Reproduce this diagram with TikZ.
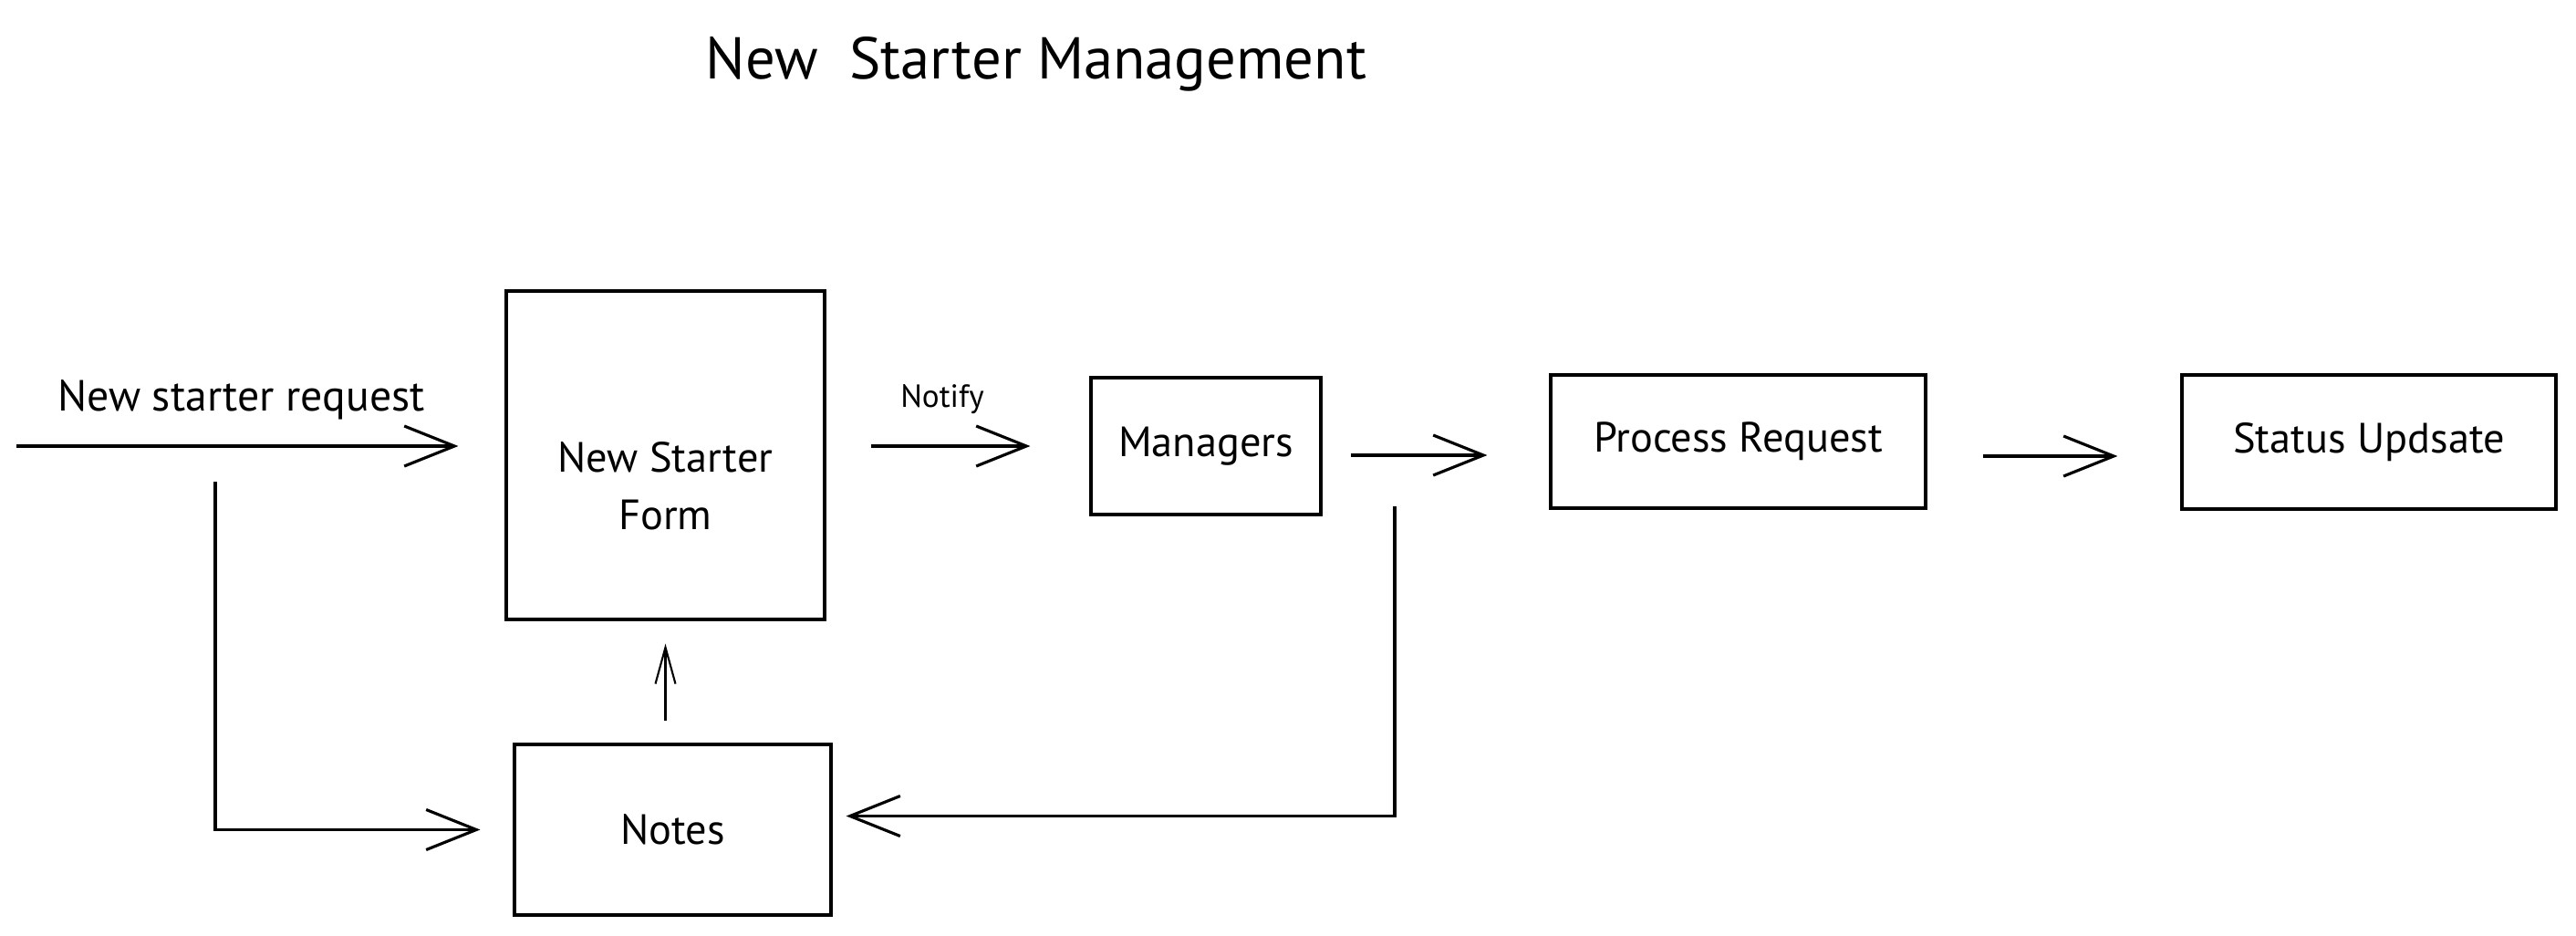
\documentclass[tikz,border=0pt]{standalone}
\usepackage{fontspec}
\setmainfont{PT Sans}
\usetikzlibrary{arrows.meta}
\tikzset{
	box/.style={draw, line width=0.9pt, inner sep=0pt, font=\fontsize{13.2}{18}\selectfont},
	arr/.style={line width=0.9pt, -{Straight Barb[length=5.5mm, width=4.4mm, line width=0.9pt]}},
	thinarr/.style={line width=0.6pt, -{Straight Barb[length=4mm, width=2.2mm, line width=0.6pt]}}
}

\begin{document}
\begin{tikzpicture}
		%%%%% START %%%%%
		\useasboundingbox (0, 0) rectangle (28.24, -10.25);
		
		\node (title) at (11.36, -0.70) {\fontsize{18.4}{22}\selectfont New\ \ Starter Management};
		
		\node[box, minimum width=3.49cm, minimum height=3.60cm] (nsf) at (7.295, -4.99) {};
		\node[font=\fontsize{13.2}{18}\selectfont, align=center] (nsftext) at ([yshift=-3.4mm]nsf.center) {New Starter\\Form};
		\node[box, minimum width=2.52cm, minimum height=1.50cm] (mgr) at (13.22, -4.89) {Managers};
		\node[box, minimum width=4.11cm, minimum height=1.46cm] (proc) at (19.055, -4.84) {Process Request};
		\node[box, minimum width=4.10cm, minimum height=1.47cm] (stat) at (25.97, -4.845) {Status Updsate};
		\node[box, minimum width=3.47cm, minimum height=1.87cm] (notes) at (7.375, -9.095) {Notes};
		
		\node[font=\fontsize{13.6}{16}\selectfont] (req) at (2.645, -4.38) {New starter request};
		\node[font=\fontsize{10}{12}\selectfont] (notify) at (10.33, -4.38) {Notify};
		
		\coordinate (in) at (0.18, -4.89);
		\coordinate (split) at (2.36, -5.28);
		\coordinate (back) at (15.29, -5.55);
		
		\draw[arr, shorten >=5.1mm] (in) -- (in -| nsf.west);
		\draw[arr, shorten <=4.9mm, shorten >=6.5mm] (nsf.east |- mgr) -- (mgr.west);
		\draw[arr, shorten <=3.1mm, shorten >=6.8mm] ([yshift=-1mm]mgr.east) -- ([yshift=-1mm]mgr.east -| proc.west);
		\draw[arr, shorten <=6.1mm, shorten >=6.9mm] ([yshift=-1.6mm]proc.east) -- ([yshift=-1.6mm]proc.east -| stat.west);
		\draw[thinarr, shorten <=2.4mm, shorten >=2.5mm] (nsf.south |- notes.north) -- (nsf.south);
		
		\draw[arr, shorten >=3.6mm] (split) |- (notes.west);
		\draw[arr, shorten >=1.5mm] (back) |- ([yshift=1.5mm]notes.east);
		
		%%%%% END %%%%%
	\end{tikzpicture}
\end{document}
